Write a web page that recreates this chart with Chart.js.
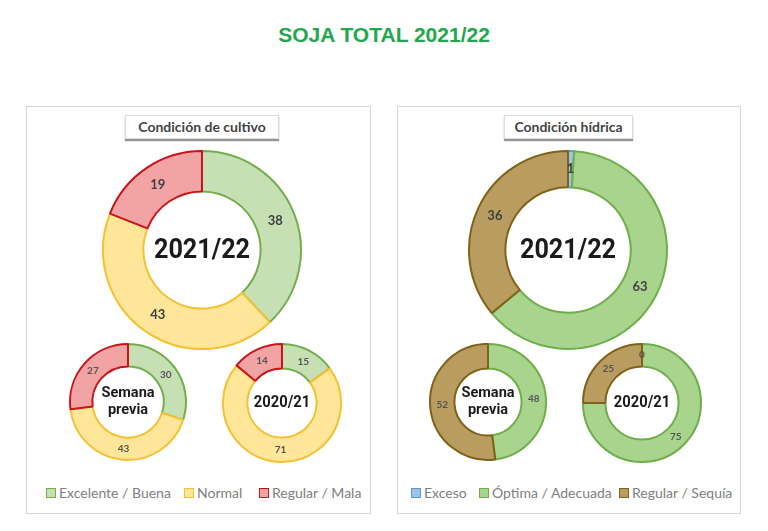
<!DOCTYPE html>
<html>
<head>
<meta charset="utf-8">
<script src="https://cdn.jsdelivr.net/npm/chart.js@4.4.1/dist/chart.umd.min.js"></script>
<style>
  html,body{margin:0;padding:0;background:#fff;}
  body{width:768px;height:531px;position:relative;overflow:hidden;font-family:Lato,"Open Sans",sans-serif;}
  #title{position:absolute;left:0;width:768px;top:23px;text-align:center;font-family:"Liberation Sans",Arial,sans-serif;font-weight:bold;font-size:21px;color:#22a84c;}
  .panel{position:absolute;top:106px;height:406px;border:1px solid #d6d6d6;background:#fff;}
  .ptitle{position:absolute;top:115px;height:22px;line-height:22px;border:1px solid #dcdcdc;background:#fff;color:#444;font-weight:bold;font-size:14px;text-align:center;box-shadow:0 2px 1px rgba(60,60,60,0.55);font-family:Lato,sans-serif;}
  canvas{position:absolute;}
  .legend{position:absolute;top:484px;height:18px;font-size:14px;color:#808080;font-family:Lato,sans-serif;white-space:nowrap;}
  .legend span.item{position:absolute;top:0;line-height:18px;}
  .legend i{display:inline-block;width:8px;height:8px;border:1.5px solid;margin-right:3px;vertical-align:-0px;}
</style>
</head>
<body>
<div id="title">SOJA TOTAL 2021/22</div>
<div class="panel" style="left:26px;width:343px;"></div>
<div class="panel" style="left:397px;width:342px;"></div>
<div class="ptitle" style="left:125px;width:152px;">Condición de cultivo</div>
<div class="ptitle" style="left:504px;width:127px;">Condición hídrica</div>

<canvas id="c1"></canvas>
<canvas id="c2"></canvas>
<canvas id="c3"></canvas>
<canvas id="h1"></canvas>
<canvas id="h2"></canvas>
<canvas id="h3"></canvas>

<div class="legend" id="legC" style="left:0;width:768px;"></div>
<div class="legend" id="legH" style="left:0;width:768px;"></div>

<script>
// ---------- DATA ----------
const cultivoLabels = ['Excelente / Buena', 'Normal', 'Regular / Mala'];
const cultivoActual = [38, 43, 19];
const cultivoSemanaPrevia = [30, 43, 27];
const cultivoCampAnterior = [15, 71, 14];

const hidricaLabels = ['Exceso', 'Óptima / Adecuada', 'Regular / Sequía'];
const hidricaActual = [1, 63, 36];
const hidricaSemanaPrevia = [0, 48, 52];
const hidricaCampAnterior = [0, 75, 25];

const centerActual = ['2021/22'];
const centerSemanaPrevia = ['Semana', 'previa'];
const centerCampAnterior = ['2020/21'];

// ---------- STYLES ----------
const cultivoFill = ['#c6e0b4', '#ffe699', '#f2a3a3'];
const cultivoBorder = ['#74ae4c', '#f5c033', '#c8141a'];
const hidricaFill = ['#9dc3e6', '#a9d48e', '#b89c60'];
const hidricaBorder = ['#5b9bd5', '#6fae48', '#7f6318'];

const donutPlugin = {
  id: 'donutText',
  afterDatasetsDraw(chart, args, o) {
    const ctx = chart.ctx;
    const meta = chart.getDatasetMeta(0);
    const ds = chart.data.datasets[0];
    ctx.save();
    ctx.textAlign = 'center';
    ctx.textBaseline = 'middle';
    ctx.font = o.valueFont;
    ctx.fillStyle = o.valueColor;
    meta.data.forEach((arc, i) => {
      const v = ds.data[i];
      if (v === 0 && !o.showZero) return;
      const p = arc.tooltipPosition();
      ctx.fillText(String(v), p.x, p.y);
    });
    const cx = (chart.chartArea.left + chart.chartArea.right) / 2;
    const cy = (chart.chartArea.top + chart.chartArea.bottom) / 2;
    ctx.font = o.centerFont;
    ctx.fillStyle = '#1b1b1b';
    const lines = o.center;
    const lh = o.centerLineHeight;
    ctx.translate(cx, cy);
    ctx.scale(o.centerScaleX, 1);
    lines.forEach((t, k) => {
      ctx.fillText(t, 0, (k - (lines.length - 1) / 2) * lh + o.centerDy);
    });
    ctx.restore();
  }
};

function donut(id, cx, cy, r, cutPx, labels, values, fill, border, opts) {
  const c = document.getElementById(id);
  const size = 2 * r + 6;
  c.width = size; c.height = size;
  c.style.width = size + 'px'; c.style.height = size + 'px';
  c.style.left = (cx - size / 2) + 'px';
  c.style.top = (cy - size / 2) + 'px';
  new Chart(c, {
    type: 'doughnut',
    data: { labels: labels, datasets: [{ data: values, backgroundColor: fill, borderColor: border, borderWidth: opts.bw, borderAlign: 'center' }] },
    options: {
      responsive: false, animation: false, devicePixelRatio: 1,
      radius: r, cutout: cutPx,
      layout: { padding: 3 },
      plugins: {
        legend: { display: false }, tooltip: { enabled: false },
        donutText: opts
      }
    },
    plugins: [donutPlugin]
  });
}

const bigCenter = { centerFont: 'bold 28px Roboto, sans-serif', centerLineHeight: 30, centerDy: 1, centerScaleX: 0.9 };
const prevCenter = { centerFont: 'bold 15px Roboto, sans-serif', centerLineHeight: 17, centerDy: 0, centerScaleX: 0.97 };
const antCenter = { centerFont: 'bold 17px Roboto, sans-serif', centerLineHeight: 18, centerDy: 0, centerScaleX: 0.87 };

donut('c1', 202, 250, 99, 58, cultivoLabels, cultivoActual, cultivoFill, cultivoBorder,
  Object.assign({ bw: 2, valueFont: 'bold 13px Lato, sans-serif', valueColor: '#404040', center: centerActual, showZero: false }, bigCenter));
donut('c2', 128, 402, 58, 35, cultivoLabels, cultivoSemanaPrevia, cultivoFill, cultivoBorder,
  Object.assign({ bw: 2, valueFont: 'bold 10px Lato, sans-serif', valueColor: '#555', center: centerSemanaPrevia, showZero: false }, prevCenter));
donut('c3', 282, 403, 59, 34, cultivoLabels, cultivoCampAnterior, cultivoFill, cultivoBorder,
  Object.assign({ bw: 2, valueFont: 'bold 10px Lato, sans-serif', valueColor: '#555', center: centerCampAnterior, showZero: false }, antCenter));

donut('h1', 568, 250, 99, 62, hidricaLabels, hidricaActual, hidricaFill, hidricaBorder,
  Object.assign({ bw: 2, valueFont: 'bold 13px Lato, sans-serif', valueColor: '#404040', center: centerActual, showZero: false }, bigCenter));
donut('h2', 488, 402, 58, 33, hidricaLabels, hidricaSemanaPrevia, hidricaFill, hidricaBorder,
  Object.assign({ bw: 2, valueFont: 'bold 10px Lato, sans-serif', valueColor: '#555', center: centerSemanaPrevia, showZero: false }, prevCenter));
donut('h3', 642, 403, 59, 36, hidricaLabels, hidricaCampAnterior, hidricaFill, hidricaBorder,
  Object.assign({ bw: 2, valueFont: 'bold 10px Lato, sans-serif', valueColor: '#555', center: centerCampAnterior, showZero: true }, antCenter));

// ---------- LEGENDS ----------
function legend(id, labels, fill, border, xs) {
  const el = document.getElementById(id);
  labels.forEach((t, i) => {
    const s = document.createElement('span');
    s.className = 'item';
    s.style.left = xs[i] + 'px';
    s.innerHTML = '<i style="background:' + fill[i] + ';border-color:' + border[i] + '"></i>' + t;
    el.appendChild(s);
  });
}
legend('legC', cultivoLabels, cultivoFill, cultivoBorder, [46, 184, 259]);
legend('legH', hidricaLabels, hidricaFill, hidricaBorder, [411, 479, 619]);
</script>
</body>
</html>
